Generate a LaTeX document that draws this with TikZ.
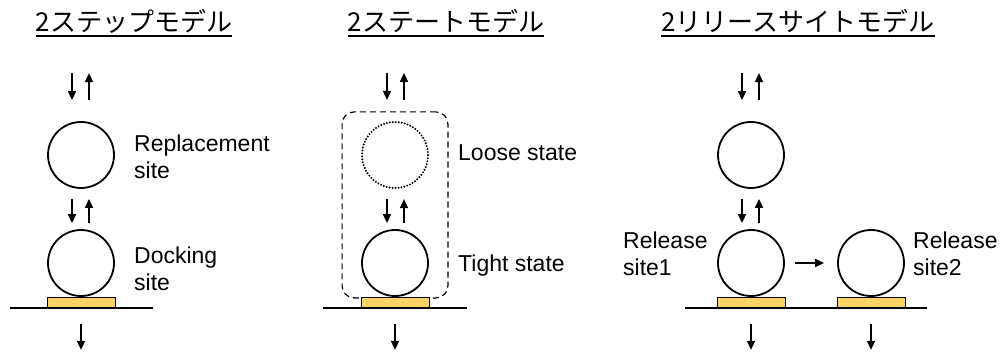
\documentclass[tikz,border=0pt]{standalone}
\usepackage{fontspec}
\setmainfont{Liberation Sans}
\newfontfamily\jp{Noto Sans CJK JP}
\usetikzlibrary{arrows.meta,positioning,fit}
\definecolor{padyellow}{RGB}{251,212,102}

\begin{document}
\begin{tikzpicture}[x=1pt,y=-1pt,
    site/.style={draw,circle,line width=1.8pt,minimum size=66pt,inner sep=0pt},
    loosesite/.style={site,line width=2.2pt,line cap=round,dash pattern=on 0pt off 3pt},
    pad/.style={draw,fill=padyellow,line width=1pt,minimum width=68pt,minimum height=11pt,inner sep=0pt},
    arr/.style={line width=1.6pt,-{Triangle[length=9pt,width=8pt]}},
    lbl/.style={font=\fontsize{23}{27}\selectfont,align=left,inner sep=0pt},
    ttl/.style={font=\jp\fontsize{26}{30}\selectfont,inner sep=0pt},
    ul/.style={line width=1.3pt},
    membrane/.style={line width=1.3pt},
    statebox/.style={draw,line width=1.2pt,dash pattern=on 6pt off 4pt,rounded corners=12pt,inner xsep=19pt,inner ysep=0pt}]
  \useasboundingbox (0,0) rectangle (1004,358);

  % titles
  \node[ttl] (t1) at (134,21) {2ステップモデル};
  \node[ttl] (t2) at (446,21) {2ステートモデル};
  \node[ttl] (t3) at (798,21) {2リリースサイトモデル};
  \foreach \t in {t1,t2,t3}
    \draw[ul] ([yshift=-15pt]\t.west) -- ([yshift=-15pt]\t.east);

  % 2-step model
  \node[site] (rep) at (81,155) {};
  \node[site] (dock) at (81,263) {};
  \node[pad, below=0pt of dock] (pad1) {};
  \draw[membrane] (10,308) -- (153,308);
  \node[lbl,anchor=west] (replbl) at (134,157) {Replacement\\site};
  \node[lbl,anchor=west] (docklbl) at (134,269) {Docking\\site};
  \draw[arr] ([shift={(-9pt,48pt)}]rep.north) -- ([shift={(-9pt,21pt)}]rep.north);
  \draw[arr] ([shift={(8pt,21pt)}]rep.north) -- ([shift={(8pt,48pt)}]rep.north);
  \draw[arr] ([shift={(-9pt,-10pt)}]rep.south) -- ([shift={(-9pt,6pt)}]dock.north);
  \draw[arr] ([shift={(8pt,6pt)}]dock.north) -- ([shift={(8pt,-10pt)}]rep.south);
  \draw[arr] ([yshift=-15pt]pad1.south) -- ([yshift=-41pt]pad1.south);

  % 2-state model
  \node[loosesite] (loose) at (395,155) {};
  \node[site] (tight) at (395,263) {};
  \node[statebox, fit={([yshift=9pt]loose.north) (tight.west) (tight.east) ([yshift=-1pt]tight.south)}] (state) {};
  \node[pad, below=0pt of tight] (pad2) {};
  \draw[membrane] (323,308) -- (467,308);
  \node[lbl,anchor=west] (looselbl) at (458,153) {Loose state};
  \node[lbl,anchor=west] (tightlbl) at (458,266) {Tight state};
  \draw[arr] ([shift={(-8pt,48pt)}]loose.north) -- ([shift={(-8pt,21pt)}]loose.north);
  \draw[arr] ([shift={(9pt,21pt)}]loose.north) -- ([shift={(9pt,48pt)}]loose.north);
  \draw[arr] ([shift={(-8pt,-10pt)}]loose.south) -- ([shift={(-8pt,6pt)}]tight.north);
  \draw[arr] ([shift={(9pt,6pt)}]tight.north) -- ([shift={(9pt,-10pt)}]loose.south);
  \draw[arr] ([yshift=-15pt]pad2.south) -- ([yshift=-41pt]pad2.south);

  % 2-release-site model
  \node[site] (top) at (751,155) {};
  \node[site] (rel1) at (751,263) {};
  \node[site] (rel2) at (871,263) {};
  \node[pad, below=0pt of rel1] (pad3) {};
  \node[pad, below=0pt of rel2] (pad4) {};
  \draw[membrane] (685,308) -- (927,308);
  \node[lbl,anchor=west] (rel1lbl) at (623,254) {Release\\site1};
  \node[lbl,anchor=west] (rel2lbl) at (913,254) {Release\\site2};
  \draw[arr] ([shift={(-9pt,48pt)}]top.north) -- ([shift={(-9pt,21pt)}]top.north);
  \draw[arr] ([shift={(8pt,21pt)}]top.north) -- ([shift={(8pt,48pt)}]top.north);
  \draw[arr] ([shift={(-9pt,-10pt)}]top.south) -- ([shift={(-9pt,6pt)}]rel1.north);
  \draw[arr] ([shift={(8pt,6pt)}]rel1.north) -- ([shift={(8pt,-10pt)}]top.south);
  \draw[arr] ([xshift=10pt]rel1.east) -- ([xshift=-13pt]rel2.west);
  \draw[arr] ([yshift=-15pt]pad3.south) -- ([yshift=-41pt]pad3.south);
  \draw[arr] ([yshift=-15pt]pad4.south) -- ([yshift=-41pt]pad4.south);
\end{tikzpicture}
\end{document}
